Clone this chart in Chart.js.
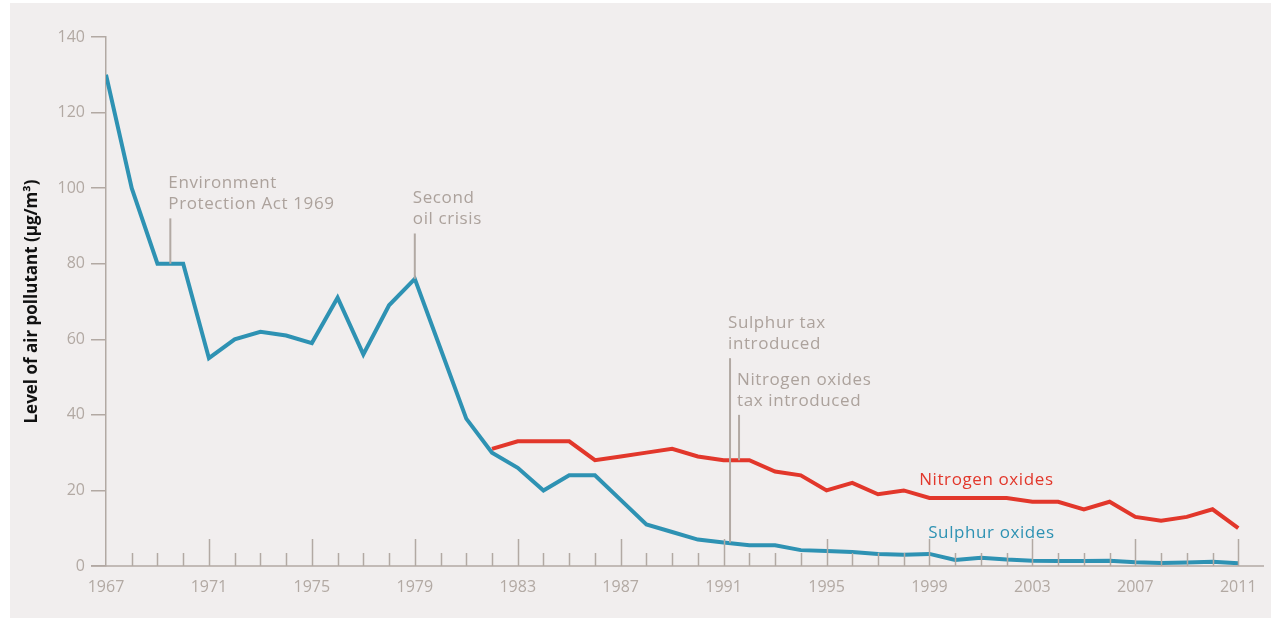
<!DOCTYPE html>
<html>
<head>
<meta charset="utf-8">
<title>Air pollutant levels</title>
<script src="https://cdn.jsdelivr.net/npm/chart.js@4.4.1/dist/chart.umd.min.js"></script>
<style>
  html, body { margin: 0; padding: 0; background: #ffffff; }
  #wrap { width: 1274px; height: 621px; position: relative; }
</style>
</head>
<body>
<div id="wrap"><canvas id="myChart"></canvas></div>
<script>
// years on the x axis
const years = [];
for (let y = 1967; y <= 2011; y++) years.push(y);

// sulphur oxides, 1967-2011
const sulphurValues = [130, 100, 80, 80, 55, 60, 62, 61, 59, 71, 56, 69, 76, 57.5, 39, 30,
    26, 20, 24, 24, 17.5, 11, 9, 7, 6.2, 5.5, 5.5, 4.2, 4, 3.7, 3.2, 3, 3.2,
    1.6, 2.2, 1.7, 1.4, 1.3, 1.3, 1.4, 1, 0.8, 0.9, 1.1, 0.7];

// nitrogen oxides, 1982-2011
const nitrogenYears = years.slice(15);
const nitrogenValues = [31, 33, 33, 33, 28, 29, 30, 31, 29, 28, 28, 25, 24, 20, 22, 19, 20,
    18, 18, 18, 18, 17, 17, 15, 17, 13, 12, 13, 15, 10];

const xTickYears = [1967, 1971, 1975, 1979, 1983, 1987, 1991, 1995, 1999, 2003, 2007, 2011];
const yTickValues = [0, 20, 40, 60, 80, 100, 120, 140];

// event notes: year, where the pointer starts and ends (in data units), text lines
const eventYears = [1969.5, 1979, 1991.25, 1991.6];
const eventTops = [92, 88, 55, 40];
const eventBottoms = [80, 76, 6.2, 28];
const eventTexts = [
    ["Environment", "Protection Act 1969"],
    ["Second", "oil crisis"],
    ["Sulphur tax", "introduced"],
    ["Nitrogen oxides", "tax introduced"]
];

const blue = "#2e92b3";
const red = "#e2372b";
const grey = "#b2a9a3";
const font = "'Open Sans', 'Noto Sans', sans-serif";

/**
 * Draws the panel background, the x axis ticks and the event notes.
 */
const decorPlugin = {
    id: "decor",
    beforeDraw(chart) {
        const ctx = chart.ctx;
        ctx.save();
        ctx.fillStyle = "#ffffff";
        ctx.fillRect(0, 0, chart.width, chart.height);
        ctx.fillStyle = "#f1eeee";
        ctx.fillRect(10, 3, chart.width - 13, chart.height - 6);
        ctx.restore();
    },
    afterDatasetsDraw(chart) {
        const ctx = chart.ctx;
        const x = chart.scales.x;
        const y = chart.scales.y;
        const base = y.getPixelForValue(0);
        ctx.save();
        ctx.strokeStyle = grey;
        ctx.lineWidth = 1.5;

        // x axis line
        ctx.beginPath();
        ctx.moveTo(91, base);
        ctx.lineTo(chart.chartArea.right, base);
        ctx.stroke();

        // yearly ticks pointing up, longer at labelled years
        for (let yr = 1968; yr <= 2011; yr++) {
            const px = Math.round(x.getPixelForValue(yr)) + 0.5;
            const len = xTickYears.includes(yr) ? 27 : 13;
            ctx.beginPath();
            ctx.moveTo(px, base);
            ctx.lineTo(px, base - len);
            ctx.stroke();
        }

        // event notes
        ctx.lineWidth = 2;
        ctx.font = "17px " + font;
        ctx.letterSpacing = "0.6px";
        ctx.fillStyle = "#aca29c";
        ctx.textBaseline = "alphabetic";
        for (let i = 0; i < eventYears.length; i++) {
            const px = x.getPixelForValue(eventYears[i]);
            const top = y.getPixelForValue(eventTops[i]);
            const bottom = y.getPixelForValue(eventBottoms[i]);
            ctx.beginPath();
            ctx.moveTo(px, top);
            ctx.lineTo(px, bottom);
            ctx.stroke();
            const lines = eventTexts[i];
            for (let j = 0; j < lines.length; j++) {
                ctx.fillText(lines[j], px - 2, top - 30 + j * 21);
            }
        }

        // series labels
        ctx.fillStyle = red;
        ctx.fillText("Nitrogen oxides", x.getPixelForValue(1998.6), y.getPixelForValue(21.5));
        ctx.fillStyle = blue;
        ctx.fillText("Sulphur oxides", x.getPixelForValue(1998.95), y.getPixelForValue(7.5));
        ctx.restore();
    }
};

const canvas = document.getElementById("myChart");
new Chart(canvas, {
    type: "line",
    data: {
        datasets: [
            {
                label: "Sulphur oxides",
                data: years.map((yr, i) => ({ x: yr, y: sulphurValues[i] })),
                borderColor: blue,
                borderWidth: 4,
                pointRadius: 0,
                tension: 0
            },
            {
                label: "Nitrogen oxides",
                data: nitrogenYears.map((yr, i) => ({ x: yr, y: nitrogenValues[i] })),
                borderColor: red,
                borderWidth: 4,
                pointRadius: 0,
                tension: 0
            }
        ]
    },
    options: {
        responsive: true,
        maintainAspectRatio: false,
        animation: false,
        layout: { padding: { left: 10, right: 10, top: 37, bottom: 10 } },
        plugins: {
            legend: { display: false },
            tooltip: { enabled: false }
        },
        scales: {
            x: {
                type: "linear",
                min: 1967,
                max: 2012,
                afterBuildTicks: (scale) => {
                    scale.ticks = xTickYears.map(v => ({ value: v }));
                },
                afterFit: (scale) => { scale.height = 45; },
                grid: { display: false },
                border: { display: false },
                ticks: {
                    color: grey,
                    font: { family: font, size: 16 },
                    padding: 4,
                    maxRotation: 0,
                    autoSkip: false,
                    callback: (v) => String(v)
                }
            },
            y: {
                min: 0,
                max: 140,
                afterBuildTicks: (scale) => {
                    scale.ticks = yTickValues.map(v => ({ value: v }));
                },
                afterFit: (scale) => { scale.width = 96; },
                grid: {
                    drawOnChartArea: false,
                    color: grey,
                    lineWidth: 1.5,
                    tickLength: 15
                },
                border: { display: true, color: grey, width: 1.5 },
                ticks: {
                    color: grey,
                    font: { family: font, size: 16 },
                    padding: 6
                },
                title: {
                    display: true,
                    text: "Level of air pollutant (µg/m³)",
                    color: "#111111",
                    font: { family: font, size: 17, weight: "bold" },
                    padding: { top: 12, bottom: 0 }
                }
            }
        }
    },
    plugins: [decorPlugin]
});
</script>
</body>
</html>
